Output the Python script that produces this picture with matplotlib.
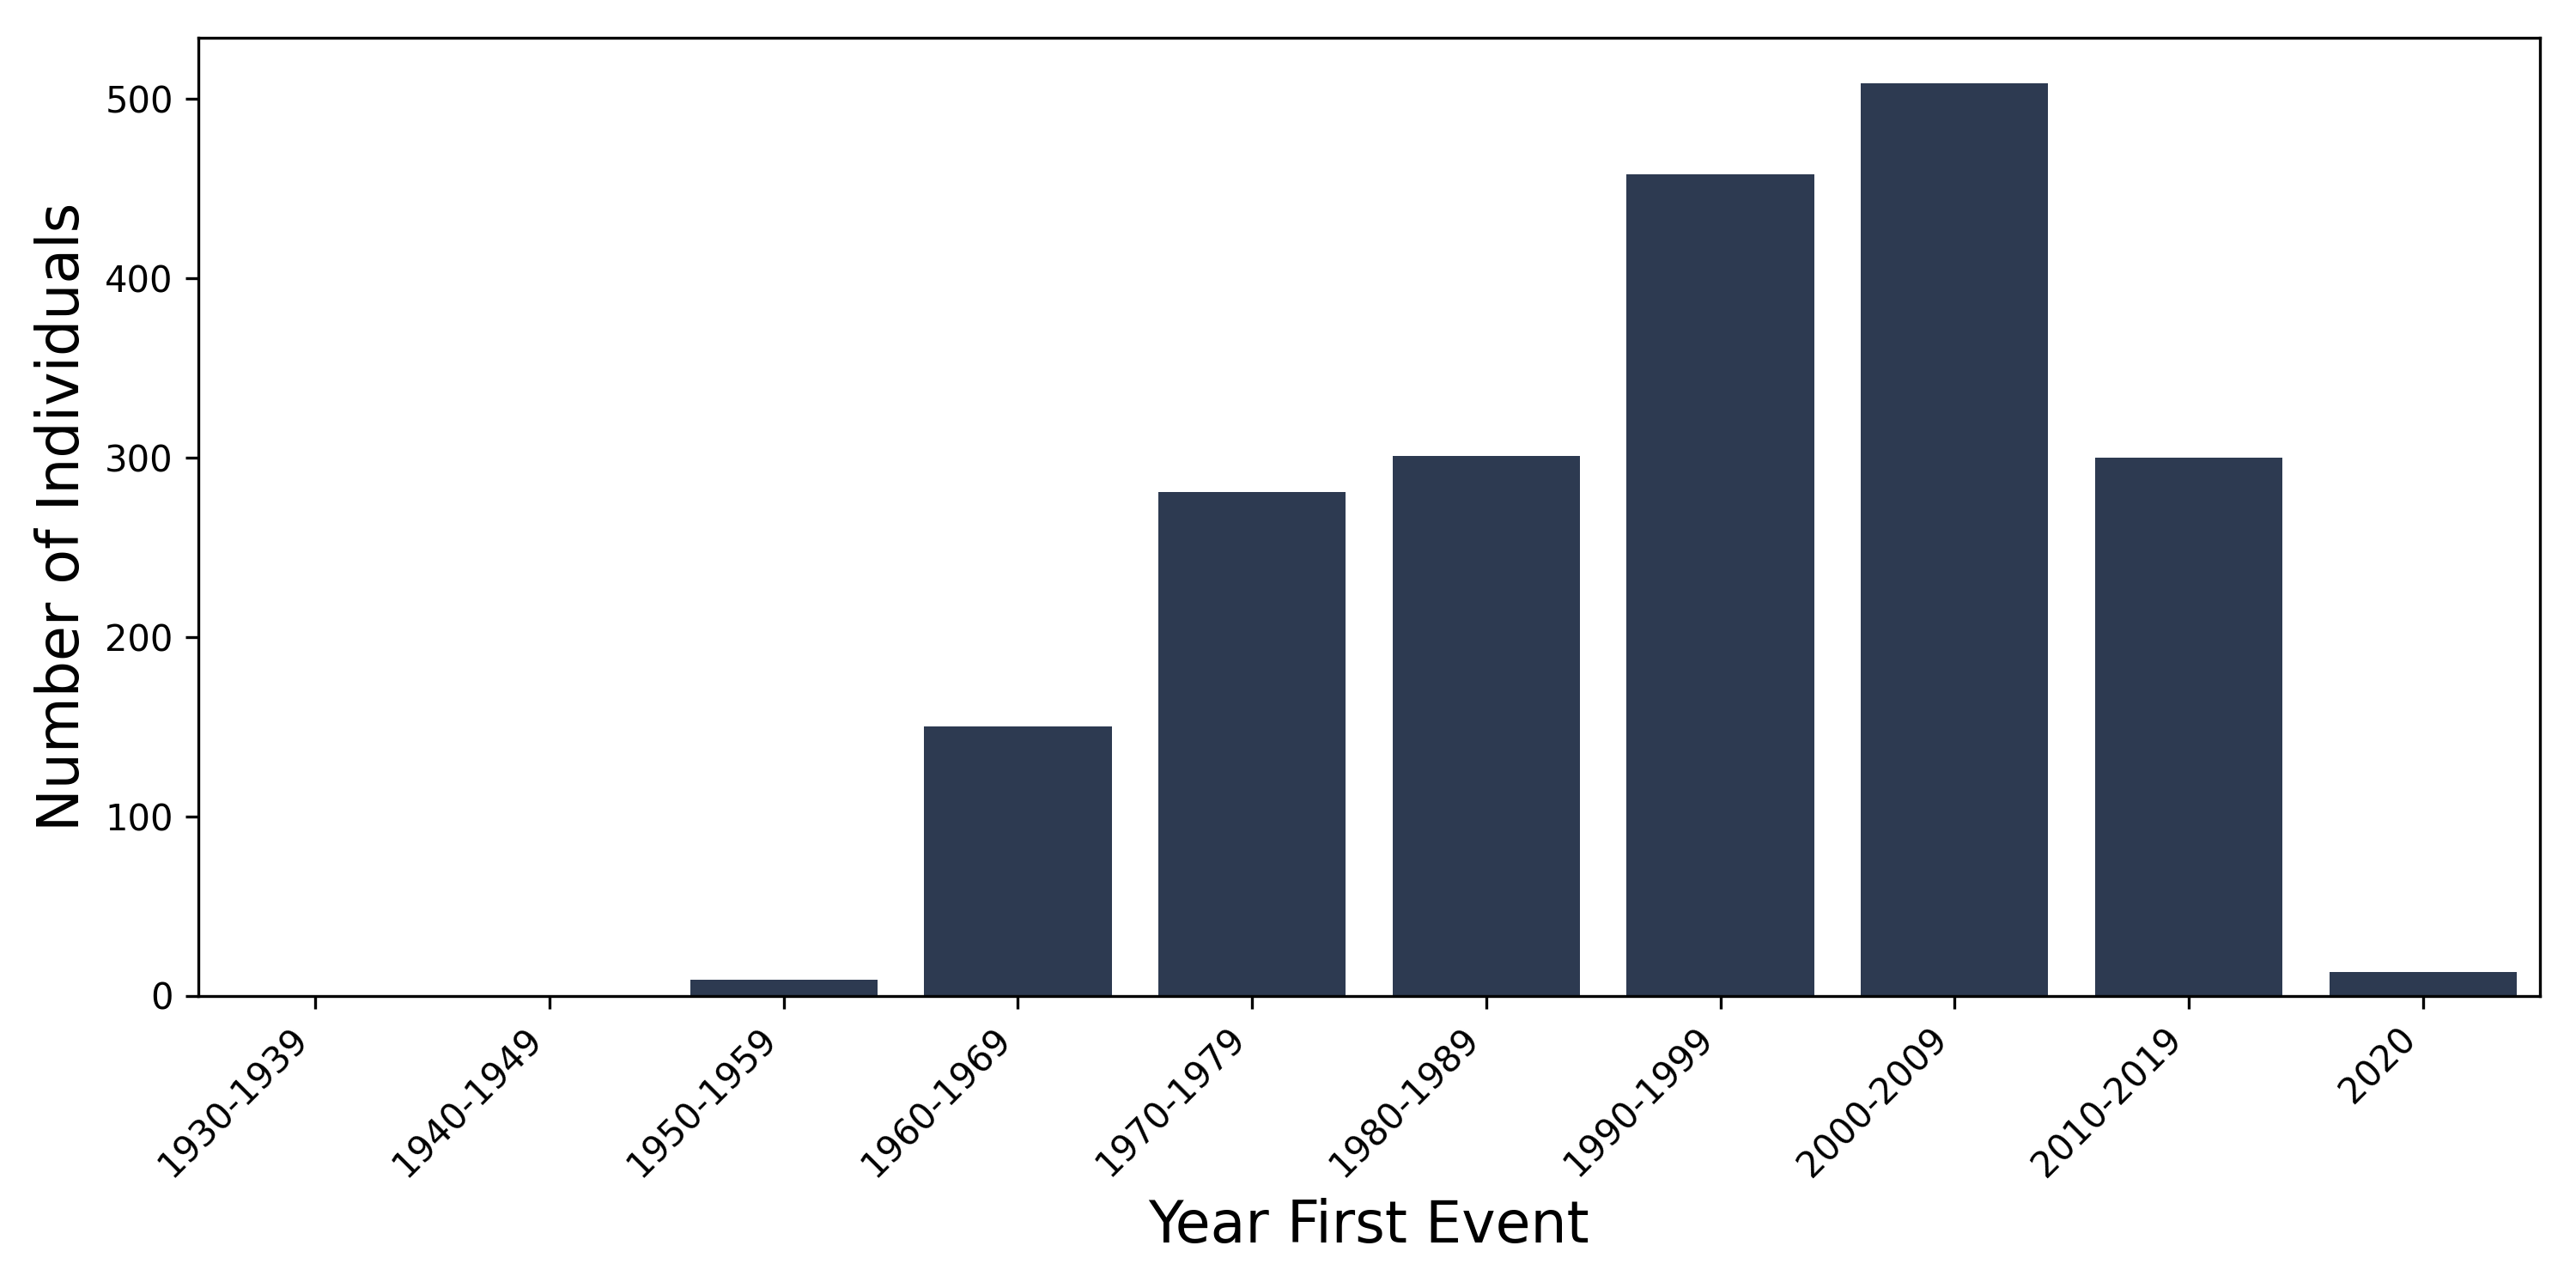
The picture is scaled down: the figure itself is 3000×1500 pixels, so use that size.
import matplotlib
matplotlib.use("Agg")
import matplotlib.pyplot as plt

categories = ["1930-1939", "1940-1949", "1950-1959", "1960-1969", "1970-1979",
              "1980-1989", "1990-1999", "2000-2009", "2010-2019", "2020"]
counts = [0, 0, 9, 150, 281, 301, 458, 509, 300, 13]

bar_color = "#2d3a51"

fig, ax = plt.subplots(figsize=(10, 5), dpi=300)
x = range(len(categories))
ax.bar(x, counts, width=0.8, color=bar_color)
ax.set_xlim(-0.5, len(categories) - 0.5)
ax.set_xticks(list(x))
ax.set_xticklabels(categories, rotation=45, ha="right", fontsize=10)
ax.tick_params(axis="y", labelsize=10)
ax.set_xlabel("Year First Event", fontsize=16)
ax.set_ylabel("Number of Individuals", fontsize=16)
fig.subplots_adjust(left=0.077, right=0.986, top=0.971, bottom=0.227)
fig.savefig("out.png", dpi=300)
